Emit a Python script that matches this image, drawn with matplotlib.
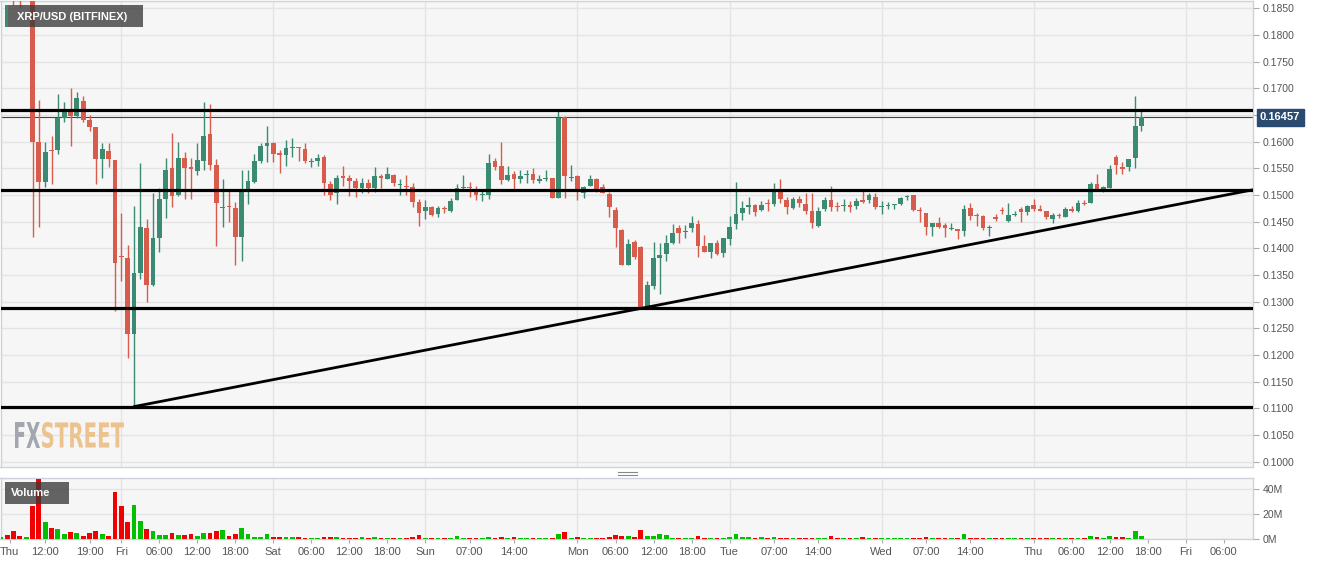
import matplotlib
matplotlib.use("Agg")
import matplotlib.pyplot as plt
from matplotlib.patches import Rectangle, PathPatch
from matplotlib.textpath import TextPath
from matplotlib.font_manager import FontProperties
from matplotlib.transforms import Affine2D, IdentityTransform
from matplotlib.lines import Line2D

plt.rcParams['font.family'] = ['Liberation Sans', 'DejaVu Sans']

W, H = 1331, 566

# hourly candles, hour 0 = Thursday 00:00
hours = list(range(5, 186))

opens = [0.1905, 0.1915, 0.1890, 0.1875, 0.1868,
         0.1880, 0.1599, 0.1525, 0.1584, 0.1585, 0.1645, 0.1659, 0.1649, 0.1677, 0.1641,
         0.1627, 0.1567, 0.1582, 0.1565, 0.1385, 0.1382, 0.1239, 0.1353, 0.1438, 0.1331,
         0.1420, 0.1493, 0.1550, 0.1500, 0.1570, 0.1552, 0.1545, 0.1564, 0.1614, 0.1556,
         0.1475, 0.1479, 0.1475, 0.1421, 0.1507, 0.1525, 0.1564, 0.1592, 0.1597, 0.1579,
         0.1576, 0.1588, 0.1590, 0.1587, 0.1562, 0.1564, 0.1572, 0.1520, 0.1503, 0.1534,
         0.1533, 0.1527, 0.1513, 0.1523, 0.1513, 0.1535, 0.1530, 0.1538, 0.1519, 0.1518,
         0.1515, 0.1487, 0.1470, 0.1478, 0.1465, 0.1475, 0.1470, 0.1491, 0.1513, 0.1516,
         0.1508, 0.1500, 0.1500, 0.1564, 0.1554, 0.1529, 0.1539, 0.1530, 0.1537, 0.1540,
         0.1527, 0.1531, 0.1532, 0.1495, 0.1647, 0.1532, 0.1535, 0.1503, 0.1518, 0.1531,
         0.1515, 0.1502, 0.1472, 0.1434, 0.1369, 0.1412, 0.1403, 0.1290, 0.1329, 0.1382,
         0.1390, 0.1410, 0.1438, 0.1430, 0.1438, 0.1446, 0.1404, 0.1393, 0.1411, 0.1391,
         0.1418, 0.1446, 0.1467, 0.1477, 0.1482, 0.1472, 0.1485, 0.1483, 0.1505, 0.1490,
         0.1475, 0.1493, 0.1483, 0.1470, 0.1442, 0.1473, 0.1490, 0.1479, 0.1479, 0.1482,
         0.1480, 0.1490, 0.1491, 0.1497, 0.1477, 0.1480, 0.1481, 0.1483, 0.1497, 0.1500,
         0.1472, 0.1467, 0.1440, 0.1448, 0.1443, 0.1437, 0.1436, 0.1433, 0.1475, 0.1463,
         0.1460, 0.1438, 0.1458, 0.1472, 0.1451, 0.1462, 0.1473, 0.1468, 0.1481, 0.1474,
         0.1470, 0.1455, 0.1463, 0.1458, 0.1473, 0.1470, 0.1486, 0.1485, 0.1521, 0.1512,
         0.1513, 0.1572, 0.1553, 0.1552, 0.1569, 0.1629]

highs = [0.1925, 0.1930, 0.1900, 0.1895, 0.1890,
         0.1895, 0.1679, 0.1600, 0.1610, 0.1689, 0.1674, 0.1701, 0.1693, 0.1685, 0.1650,
         0.1628, 0.1598, 0.1598, 0.1566, 0.1467, 0.1406, 0.1480, 0.1560, 0.1455, 0.1503,
         0.1513, 0.1570, 0.1616, 0.1599, 0.1580, 0.1570, 0.1597, 0.1675, 0.1671, 0.1567,
         0.1530, 0.1507, 0.1487, 0.1547, 0.1547, 0.1578, 0.1598, 0.1629, 0.1600, 0.1584,
         0.1604, 0.1607, 0.1591, 0.1597, 0.1570, 0.1578, 0.1575, 0.1527, 0.1537, 0.1554,
         0.1537, 0.1533, 0.1532, 0.1530, 0.1552, 0.1540, 0.1552, 0.1540, 0.1530, 0.1537,
         0.1523, 0.1493, 0.1490, 0.1480, 0.1480, 0.1480, 0.1495, 0.1520, 0.1537, 0.1525,
         0.1518, 0.1507, 0.1578, 0.1570, 0.1599, 0.1554, 0.1545, 0.1547, 0.1548, 0.1550,
         0.1537, 0.1548, 0.1533, 0.1657, 0.1649, 0.1557, 0.1537, 0.1518, 0.1538, 0.1532,
         0.1520, 0.1505, 0.1477, 0.1436, 0.1418, 0.1415, 0.1404, 0.1339, 0.1412, 0.1410,
         0.1426, 0.1446, 0.1443, 0.1443, 0.1460, 0.1453, 0.1425, 0.1410, 0.1415, 0.1420,
         0.1461, 0.1525, 0.1488, 0.1496, 0.1484, 0.1488, 0.1492, 0.1523, 0.1531, 0.1497,
         0.1497, 0.1499, 0.1503, 0.1503, 0.1477, 0.1497, 0.1517, 0.1487, 0.1493, 0.1488,
         0.1495, 0.1508, 0.1503, 0.1503, 0.1488, 0.1487, 0.1484, 0.1497, 0.1500, 0.1500,
         0.1478, 0.1467, 0.1448, 0.1459, 0.1448, 0.1448, 0.1436, 0.1481, 0.1485, 0.1467,
         0.1462, 0.1443, 0.1464, 0.1478, 0.1485, 0.1471, 0.1477, 0.1481, 0.1493, 0.1482,
         0.1470, 0.1467, 0.1467, 0.1477, 0.1479, 0.1491, 0.1490, 0.1525, 0.1539, 0.1518,
         0.1557, 0.1576, 0.1562, 0.1568, 0.1685, 0.1657]

lows = [0.1885, 0.1880, 0.1857, 0.1853, 0.1866,
        0.1422, 0.1440, 0.1515, 0.1520, 0.1578, 0.1637, 0.1592, 0.1645, 0.1637, 0.1620,
        0.1520, 0.1533, 0.1552, 0.1282, 0.1339, 0.1195, 0.1102, 0.1343, 0.1299, 0.1329,
        0.1393, 0.1457, 0.1477, 0.1499, 0.1492, 0.1492, 0.1537, 0.1547, 0.1547, 0.1404,
        0.1440, 0.1450, 0.1369, 0.1376, 0.1483, 0.1523, 0.1560, 0.1562, 0.1562, 0.1542,
        0.1554, 0.1572, 0.1564, 0.1560, 0.1552, 0.1554, 0.1500, 0.1490, 0.1483, 0.1517,
        0.1498, 0.1497, 0.1503, 0.1503, 0.1505, 0.1513, 0.1530, 0.1518, 0.1500, 0.1500,
        0.1478, 0.1442, 0.1455, 0.1460, 0.1458, 0.1467, 0.1468, 0.1490, 0.1507, 0.1497,
        0.1491, 0.1489, 0.1493, 0.1548, 0.1520, 0.1527, 0.1511, 0.1523, 0.1523, 0.1523,
        0.1522, 0.1527, 0.1495, 0.1495, 0.1495, 0.1527, 0.1490, 0.1495, 0.1517, 0.1505,
        0.1503, 0.1458, 0.1403, 0.1369, 0.1368, 0.1381, 0.1289, 0.1289, 0.1323, 0.1314,
        0.1376, 0.1409, 0.1410, 0.1420, 0.1430, 0.1384, 0.1393, 0.1382, 0.1388, 0.1383,
        0.1406, 0.1436, 0.1453, 0.1465, 0.1460, 0.1470, 0.1470, 0.1480, 0.1486, 0.1465,
        0.1473, 0.1477, 0.1465, 0.1438, 0.1440, 0.1470, 0.1470, 0.1470, 0.1470, 0.1468,
        0.1473, 0.1485, 0.1485, 0.1473, 0.1465, 0.1474, 0.1473, 0.1482, 0.1491, 0.1470,
        0.1450, 0.1426, 0.1423, 0.1438, 0.1422, 0.1435, 0.1418, 0.1423, 0.1454, 0.1442,
        0.1435, 0.1423, 0.1452, 0.1465, 0.1450, 0.1460, 0.1450, 0.1463, 0.1470, 0.1470,
        0.1456, 0.1447, 0.1457, 0.1458, 0.1468, 0.1468, 0.1481, 0.1485, 0.1512, 0.1505,
        0.1513, 0.1539, 0.1540, 0.1545, 0.1550, 0.1620]

closes = [0.1915, 0.1890, 0.1870, 0.1868, 0.1880,
          0.1599, 0.1525, 0.1580, 0.1582, 0.1644, 0.1656, 0.1649, 0.1682, 0.1641, 0.1627,
          0.1567, 0.1587, 0.1567, 0.1373, 0.1383, 0.1239, 0.1353, 0.1440, 0.1331, 0.1420,
          0.1493, 0.1548, 0.1499, 0.1570, 0.1550, 0.1549, 0.1565, 0.1610, 0.1556, 0.1485,
          0.1477, 0.1477, 0.1421, 0.1507, 0.1527, 0.1564, 0.1592, 0.1597, 0.1577, 0.1575,
          0.1589, 0.1589, 0.1588, 0.1564, 0.1563, 0.1570, 0.1523, 0.1501, 0.1532, 0.1533,
          0.1527, 0.1513, 0.1523, 0.1513, 0.1535, 0.1533, 0.1540, 0.1522, 0.1520, 0.1516,
          0.1487, 0.1467, 0.1477, 0.1463, 0.1475, 0.1474, 0.1489, 0.1513, 0.1516, 0.1513,
          0.1500, 0.1502, 0.1560, 0.1552, 0.1529, 0.1537, 0.1530, 0.1535, 0.1540, 0.1529,
          0.1530, 0.1532, 0.1495, 0.1644, 0.1535, 0.1534, 0.1505, 0.1515, 0.1530, 0.1507,
          0.1503, 0.1477, 0.1438, 0.1369, 0.1408, 0.1384, 0.1290, 0.1331, 0.1382, 0.1388,
          0.1410, 0.1428, 0.1428, 0.1432, 0.1448, 0.1404, 0.1393, 0.1410, 0.1390, 0.1420,
          0.1440, 0.1465, 0.1475, 0.1482, 0.1468, 0.1481, 0.1484, 0.1505, 0.1492, 0.1477,
          0.1492, 0.1485, 0.1470, 0.1448, 0.1471, 0.1490, 0.1477, 0.1478, 0.1480, 0.1478,
          0.1489, 0.1487, 0.1500, 0.1478, 0.1479, 0.1481, 0.1483, 0.1495, 0.1499, 0.1472,
          0.1470, 0.1440, 0.1448, 0.1440, 0.1438, 0.1438, 0.1433, 0.1473, 0.1460, 0.1460,
          0.1438, 0.1440, 0.1456, 0.1470, 0.1463, 0.1465, 0.1468, 0.1480, 0.1473, 0.1471,
          0.1458, 0.1463, 0.1461, 0.1473, 0.1470, 0.1485, 0.1484, 0.1520, 0.1512, 0.1515,
          0.1549, 0.1557, 0.1549, 0.1568, 0.1629, 0.16457]

# volume in millions
volumes = [1.4, 2.8, 6.0, 2.0, 1.4,
           26.2, 47.5, 13.8, 8.8, 7.7, 4.1, 5.5, 5.0, 2.2, 5.0,
           6.3, 3.6, 2.2, 37.8, 26.2, 13.2, 27.0, 14.6, 7.7, 6.3,
           2.8, 3.3, 4.7, 3.3, 2.8, 4.1, 2.2, 4.7, 4.7, 6.3,
           6.9, 2.2, 4.1, 8.8, 3.6, 1.9, 1.9, 3.6, 1.9, 1.4,
           1.4, 1.2, 1.2, 1.0, 0.8, 1.0, 1.4, 1.4, 1.2, 1.0,
           1.0, 1.0, 1.2, 1.0, 1.2, 0.8, 1.0, 0.8, 0.8, 1.0,
           1.8, 3.3, 1.0, 0.8, 0.8, 0.8, 1.0, 2.0, 1.0, 1.0,
           1.0, 0.8, 1.5, 1.0, 1.8, 1.0, 1.4, 0.8, 0.8, 1.0,
           0.8, 0.8, 1.0, 4.0, 5.5, 0.8, 1.2, 0.8, 0.8, 0.8,
           0.8, 1.2, 3.3, 2.2, 2.0, 1.4, 6.9, 2.0, 2.2, 3.6,
           3.0, 1.0, 0.8, 0.8, 1.0, 2.2, 1.0, 0.8, 0.8, 1.0,
           1.2, 3.6, 1.5, 1.5, 0.8, 1.2, 0.8, 1.2, 0.8, 1.0,
           0.8, 0.8, 1.0, 1.0, 0.8, 0.8, 2.0, 0.8, 0.8, 0.8,
           0.8, 1.2, 0.8, 1.0, 0.8, 0.8, 0.8, 0.8, 0.8, 1.0,
           0.8, 1.2, 0.8, 0.8, 1.0, 0.8, 0.8, 3.6, 1.0, 0.8,
           0.8, 0.8, 0.8, 0.8, 0.8, 0.8, 0.8, 0.8, 1.0, 0.8,
           1.0, 0.8, 0.8, 0.8, 0.8, 1.0, 0.8, 2.0, 1.4, 0.8,
           2.2, 1.2, 1.2, 0.8, 6.0, 2.2]

# drawn support / resistance levels and the rising trendline
levels = [0.1660, 0.1510, 0.1289, 0.1103]
trend_hours = [25.9, 202.6]
trend_prices = [0.1103, 0.1510]
last_price = 0.16457

tick_hours = [6.4, 12, 19, 24, 30, 36, 42, 48, 54, 60, 66, 72, 79, 86, 96, 102, 108,
              114, 120, 127, 134, 144, 151, 158, 168, 174, 180, 186, 192, 198]
tick_labels = ['Thu', '12:00', '19:00', 'Fri', '06:00', '12:00', '18:00', 'Sat', '06:00',
               '12:00', '18:00', 'Sun', '07:00', '14:00', 'Mon', '06:00', '12:00', '18:00',
               'Tue', '07:00', '14:00', 'Wed', '07:00', '14:00', 'Thu', '06:00', '12:00',
               '18:00', 'Fri', '06:00']
day_hours = [24, 48, 72, 96, 120, 144, 168, 192]
price_ticks = [0.1000 + 0.005 * i for i in range(18)]
vol_ticks = [0, 20, 40]

UP = '#3b8a72'
DOWN = '#d85c4c'
GRID = '#e4e4e4'
SPINE = '#cdd2dc'
BG = '#f6f6f6'

fig = plt.figure(figsize=(W / 100, H / 100), dpi=100)
ax = fig.add_axes([0.5 / W, 1 - 467 / H, 1252.5 / W, 467 / H - 0.5 / H])
axv = fig.add_axes([0.5 / W, 1 - 539 / H, 1252.5 / W, 61.5 / H])

xlim = (4.95, 202.6)
for a in (ax, axv):
    a.set_facecolor(BG)
    a.set_xlim(*xlim)
    for s in a.spines.values():
        s.set_color(SPINE)
        s.set_linewidth(1)
    for d in day_hours:
        a.axvline(d, color=GRID, lw=1, zorder=0)
    a.yaxis.tick_right()
    a.tick_params(axis='y', length=4, width=0.8, color='#aaaaaa', labelcolor='#555555',
                  labelsize=7.5, pad=3)

# candles
up = [c >= o for o, c in zip(opens, closes)]
cols = [UP if u else DOWN for u in up]
ax.vlines(hours, lows, highs, colors=cols, lw=1, zorder=3)
bottoms = [min(o, c) for o, c in zip(opens, closes)]
heights = [max(abs(c - o), 0.0002) for o, c in zip(opens, closes)]
ax.bar(hours, heights, bottom=bottoms, width=0.75, color=cols, lw=0, zorder=4)

# levels and trendline
for lv in levels:
    ax.axhline(lv, color='black', lw=2.3, zorder=5)
ax.plot(trend_hours, trend_prices, color='black', lw=2.0, zorder=5,
        solid_capstyle='butt')
ax.axhline(last_price, color='#27476f', lw=0.8, zorder=2)

ax.set_ylim(0.0990, 0.1865)
ax.set_yticks(price_ticks)
# the last-price tag covers the 0.1650 label, as in the reference
ax.set_yticklabels(['' if abs(p - 0.165) < 1e-6 else '%.4f' % p for p in price_ticks])
ax.grid(axis='y', color=GRID, lw=1, zorder=0)
ax.set_axisbelow(True)
ax.tick_params(axis='x', bottom=False, labelbottom=False)

ax.annotate('%.5f' % last_price, xy=(1, last_price), xycoords=('axes fraction', 'data'),
            xytext=(5, 0), textcoords='offset points', ha='left', va='center',
            fontsize=8, fontweight='bold', color='white', annotation_clip=False,
            bbox=dict(boxstyle='square,pad=0.3', fc='#2b4a6f', ec='#2b4a6f'))

# volume panel
vcols = ['#00c000' if u else '#f00000' for u in up]
axv.bar(hours, volumes, width=0.75, color=vcols, lw=0, zorder=3)
axv.set_ylim(0, 49)
axv.set_yticks(vol_ticks)
axv.set_yticklabels(['%dM' % v for v in vol_ticks])
axv.grid(axis='y', color=GRID, lw=1, zorder=0)
axv.set_axisbelow(True)
axv.set_xticks(tick_hours)
axv.set_xticklabels(tick_labels)
axv.tick_params(axis='x', length=3, width=0.8, color='#aaaaaa', labelcolor='#555555',
                labelsize=8, pad=3)


def px_rect(x0, y0, x1, y1, **kw):
    fig.add_artist(Rectangle((x0 / W, 1 - y1 / H), (x1 - x0) / W, (y1 - y0) / H,
                             transform=fig.transFigure, **kw))


# title and volume label boxes
px_rect(5, 5, 143, 27, fc='#3a3a3a', ec='none', alpha=0.78, zorder=6)
px_rect(5, 5, 8, 27, fc=UP, ec='none', zorder=7)
fig.text(17 / W, 1 - 16.5 / H, 'XRP/USD (BITFINEX)', color='white', fontsize=8,
         fontweight='bold', va='center', ha='left', zorder=8)
px_rect(5, 482, 69, 504, fc='#3a3a3a', ec='none', alpha=0.78, zorder=6)
fig.text(11 / W, 1 - 493.5 / H, 'Volume', color='white', fontsize=8,
         fontweight='bold', va='center', ha='left', zorder=8)

# panel splitter mark
for yy in (471.5, 474.5):
    fig.add_artist(Line2D([618 / W, 637 / W], [1 - yy / H, 1 - yy / H], color='#888888',
                          lw=0.8, transform=fig.transFigure))


def fit_text(s, x0, x1, ytop, ybot, color):
    tp = TextPath((0, 0), s, size=10, prop=FontProperties(family='DejaVu Sans', weight='bold'))
    bb = tp.get_extents()
    tr = (Affine2D().translate(-bb.x0, -bb.y0)
          .scale((x1 - x0) / bb.width, (ybot - ytop) / bb.height)
          .translate(x0, H - ybot))
    fig.add_artist(PathPatch(tr.transform_path(tp), transform=IdentityTransform(),
                             fc=color, ec='none', zorder=1))


# watermark
fit_text('FX', 15, 40, 422, 448, '#a3a6ac')
fit_text('STREET', 42, 124, 422, 448, '#ecc28e')

fig.savefig('out.png', dpi=100)
